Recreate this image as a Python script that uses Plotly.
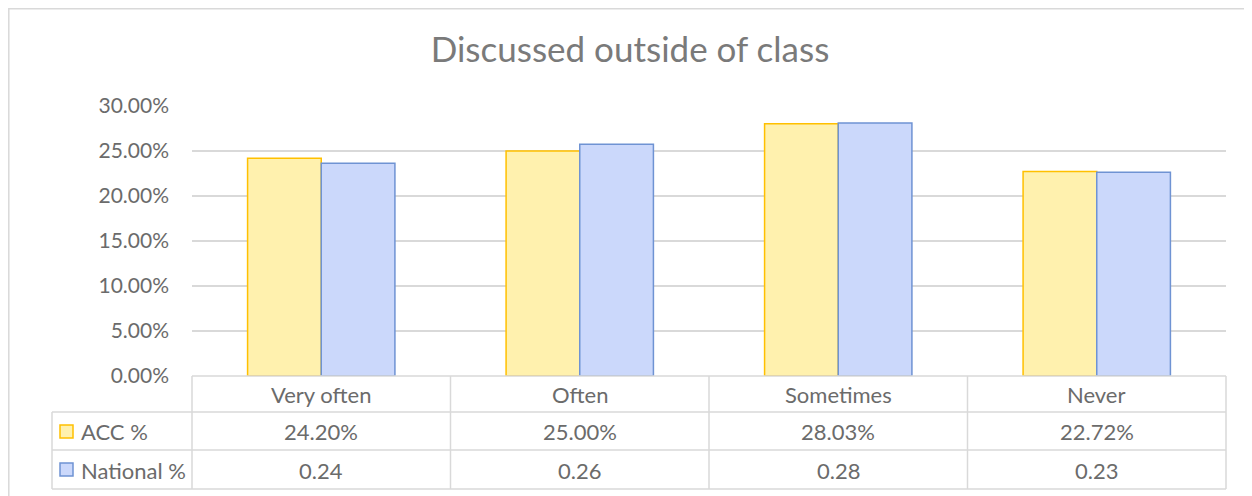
import plotly.graph_objects as go

categories = ["Very often", "Often", "Sometimes", "Never"]
acc_pct = [0.2420, 0.2500, 0.2803, 0.2272]
national_pct = [0.2365, 0.2575, 0.2810, 0.2265]
series_names = ["ACC %", "National %"]
y_ticks = [0, 0.05, 0.10, 0.15, 0.20, 0.25, 0.30]

GRID = "#D9D9D9"
TXT = "#6B6B6B"
FONT = "Lato"
ACC_FILL, ACC_EDGE = "#FFF1AE", "#FFC000"
NAT_FILL, NAT_EDGE = "#CBD8FB", "#6F93D3"

# page body has an 8px margin, so the figure is drawn 8px in from the window edge.
# plot area in window px: x 192..1226, y 106..376
PLOT_H = 270
PLOT_W = 1034

def py(y_win):
    return (376 - y_win) / PLOT_H

def px_(x_win):
    return (x_win - 192) / PLOT_W

fig = go.Figure()
fig.add_trace(go.Bar(x=categories, y=acc_pct, name=series_names[0],
                     marker=dict(color=ACC_FILL, line=dict(color=ACC_EDGE, width=1.5))))
fig.add_trace(go.Bar(x=categories, y=national_pct, name=series_names[1],
                     marker=dict(color=NAT_FILL, line=dict(color=NAT_EDGE, width=1.5))))

shapes = []
# outer chart border (runs off the right and bottom of the picture)
shapes.append(dict(type="rect", xref="paper", yref="paper", x0=px_(8.8), x1=px_(1262),
                   y0=py(506), y1=py(8.8), line=dict(color=GRID, width=1.5)))
# table horizontal lines
shapes.append(dict(type="line", xref="paper", yref="paper", x0=0, x1=1, y0=0, y1=0,
                   line=dict(color=GRID, width=1.5)))
for yy in [412, 450, 489]:
    shapes.append(dict(type="line", xref="paper", yref="paper", x0=px_(52), x1=1,
                       y0=py(yy), y1=py(yy), line=dict(color=GRID, width=1.5)))
# table vertical lines
for i in range(len(categories) + 1):
    xx = i / len(categories)
    shapes.append(dict(type="line", xref="paper", yref="paper", x0=xx, x1=xx,
                       y0=0, y1=py(489), line=dict(color=GRID, width=1.5)))
shapes.append(dict(type="line", xref="paper", yref="paper", x0=px_(52), x1=px_(52),
                   y0=py(412), y1=py(489), line=dict(color=GRID, width=1.5)))
# legend keys
for (top, fill, edge) in [(425, ACC_FILL, ACC_EDGE), (463, NAT_FILL, NAT_EDGE)]:
    shapes.append(dict(type="rect", xref="paper", yref="paper", x0=px_(60), x1=px_(73),
                       y0=py(top + 13), y1=py(top), fillcolor=fill, line=dict(color=edge, width=1.5)))

cell_font = dict(size=22, color=TXT, family=FONT)
annotations = []
row_y = [py(394), py(431), py(470)]
for cat, a, n in zip(categories, acc_pct, national_pct):
    for yy, txt in zip(row_y, [cat, f"{a:.2%}", f"{n:.2f}"]):
        annotations.append(dict(x=cat, y=yy, xref="x", yref="paper", text=txt,
                                xanchor="center", yanchor="middle",
                                showarrow=False, font=cell_font))
for name, yy in zip(series_names, row_y[1:]):
    annotations.append(dict(x=px_(79), y=yy, xref="paper", yref="paper", text=name,
                            xanchor="left", yanchor="middle", showarrow=False,
                            font=cell_font))

fig.update_layout(
    width=1244, height=488,
    margin=dict(l=184, r=1244 - 1218, t=98, b=488 - 368),
    paper_bgcolor="white", plot_bgcolor="white",
    barmode="group", bargap=0.43, bargroupgap=0,
    showlegend=False,
    title=dict(text="Discussed outside of class", x=(630 - 8) / 1244, xanchor="center",
               y=1 - (50 - 8) / 488, yanchor="middle",
               font=dict(size=35, color="#7A7A7A", family=FONT)),
    font=dict(family=FONT, color=TXT),
    xaxis=dict(showticklabels=False, showgrid=False, zeroline=False, showline=False, ticks=""),
    yaxis=dict(range=[0, 0.30], tickvals=y_ticks, tickformat=".2%", showgrid=True,
               gridcolor=GRID, gridwidth=1.5, zeroline=False, showline=False, ticks="",
               tickfont=dict(size=21, color=TXT, family=FONT), ticklabelstandoff=22),
    shapes=shapes,
    annotations=annotations,
)

fig.write_html("out.html")
